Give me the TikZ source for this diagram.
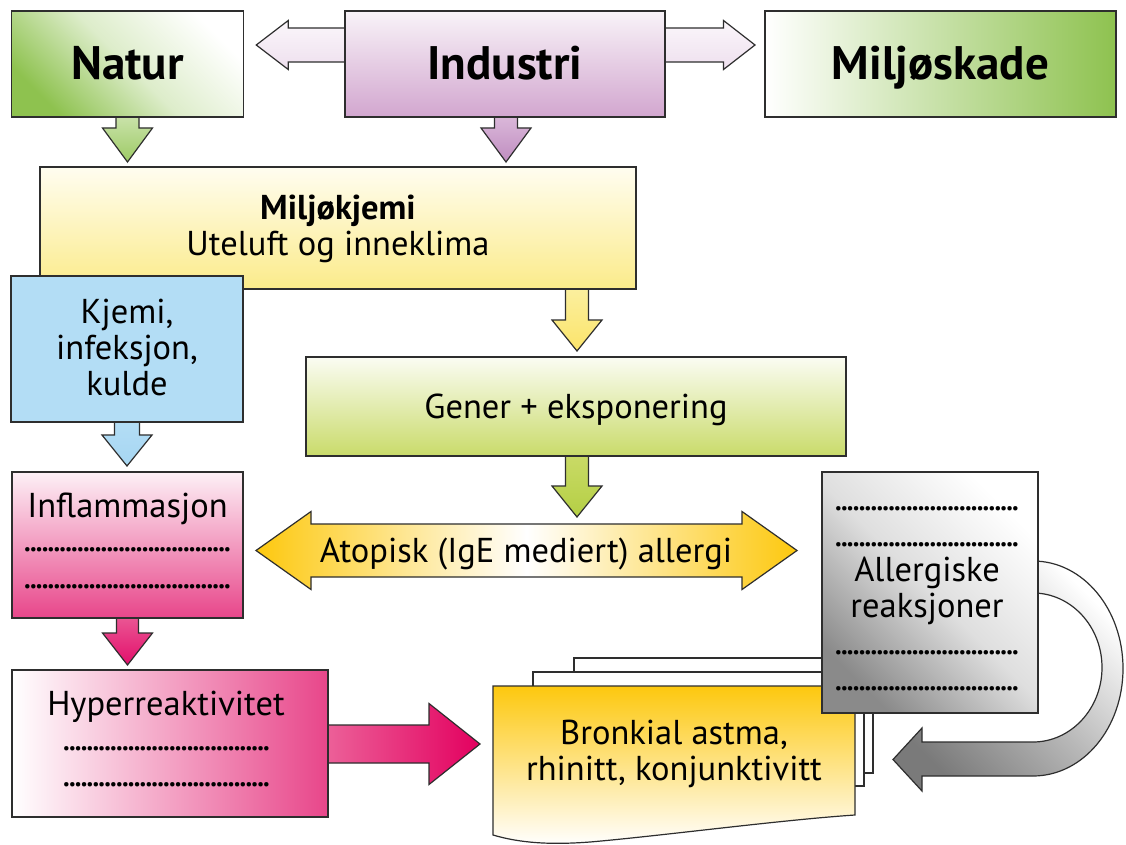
\documentclass[tikz,border=0pt]{standalone}
\usepackage{fontspec}
\setmainfont{PT Sans}
\usetikzlibrary{calc,backgrounds}
\definecolor{edge}{HTML}{2E2E2E}
\definecolor{NG}{HTML}{8EC24F}
\definecolor{IndTop}{HTML}{F8F3F8}
\definecolor{IndBot}{HTML}{D2A6CF}
\definecolor{IndArTop}{HTML}{DAB7D9}
\definecolor{IndArBot}{HTML}{BF8DC0}
\definecolor{SideTop}{HTML}{FBF7FB}
\definecolor{SideBot}{HTML}{EEDFEE}
\definecolor{NatArTop}{HTML}{C9E2A9}
\definecolor{NatArBot}{HTML}{9DCA65}
\definecolor{MkTop}{HTML}{FFFDF0}
\definecolor{MkBot}{HTML}{FBEB8A}
\definecolor{YArTop}{HTML}{FBEF9E}
\definecolor{YArBot}{HTML}{FBE46A}
\definecolor{Blue}{HTML}{B3DDF5}
\definecolor{BArBot}{HTML}{A6D6F2}
\definecolor{GenTop}{HTML}{FBFCF3}
\definecolor{GenBot}{HTML}{C9DB6A}
\definecolor{GArTop}{HTML}{C9DA66}
\definecolor{GArBot}{HTML}{B4CF44}
\definecolor{AG}{HTML}{FDC80E}
\definecolor{PinkTop}{HTML}{FDF0F6}
\definecolor{PinkBot}{HTML}{E8468A}
\definecolor{PArTop}{HTML}{EA5593}
\definecolor{PArBot}{HTML}{E30F6B}
\definecolor{HArL}{HTML}{EC6199}
\definecolor{HArR}{HTML}{E3005F}
\definecolor{Gray}{HTML}{8A8A8A}
\definecolor{GArrow}{HTML}{7A7A7A}

\newcommand\vblock[6]{%
  \path[#1] ($(#2)+({-(#4)},0)$) -- ($(#3)+({-(#4)},{-(#6)})$) -- ($(#3)+({-(#5)},{-(#6)})$) -- (#3)
   -- ($(#3)+({#5},{-(#6)})$) -- ($(#3)+({#4},{-(#6)})$) -- ($(#2)+({#4},0)$) -- cycle;}
\newcommand\hblock[6]{%
  \path[#1] ($(#2)+(0,{-(#4)})$) -- ($(#3)+({-(#6)},{-(#4)})$) -- ($(#3)+({-(#6)},{-(#5)})$) -- (#3)
   -- ($(#3)+({-(#6)},{#5})$) -- ($(#3)+({-(#6)},{#4})$) -- ($(#2)+(0,{#4})$) -- cycle;}
\newcommand\dotrow[1]{\hbox to #1pt{\xleaders\hbox to 5.86pt{\hss.\hss}\hfill}}

\begin{document}
\begin{tikzpicture}[x=1pt,y=-1pt,line join=miter,
  box/.style={draw=edge, line width=1.2pt, inner sep=0pt, outer sep=0pt},
  arr/.style={draw=edge, line width=1.2pt},
  tx/.style={anchor=base, inner sep=0pt, font=\fontsize{34.5}{40}\selectfont},
  tb/.style={anchor=base, inner sep=0pt, font=\bfseries\fontsize{47}{54}\selectfont},
  tm/.style={anchor=base, inner sep=0pt, font=\bfseries\fontsize{34.5}{40}\selectfont},
  dt/.style={anchor=base, inner sep=0pt, font=\fontsize{38}{40}\selectfont}]
\useasboundingbox (0,0) rectangle (1126,845);

% top row
\node[box, minimum width=231.5pt, minimum height=106pt, top color=NG, bottom color=white, middle color=NG!30!white, shading angle=135] (natur) at (127.5,64) {};
\node[box, minimum width=320pt, minimum height=106pt, top color=IndTop, bottom color=IndBot] (industri) at (505,64) {};
\node[box, minimum width=351pt, minimum height=106pt, left color=white, right color=NG] (miljoskade) at (940.5,64) {};
\node[tb] (tnatur) at (127.5,80) {Natur};
\node[tb] (tindustri) at (505,80) {Industri};
\node[tb] (tmiljoskade) at (940.5,80) {Miljøskade};

% Miljokjemi
\node[box, minimum width=596pt, minimum height=122pt, top color=MkTop, bottom color=MkBot] (milj) at (338,228) {};
\node[tm] (tmilj1) at (338,219) {Miljøkjemi};
\node[tx] (tmilj2) at (338,255) {Uteluft og inneklima};

% Kjemi
\node[box, minimum width=232pt, minimum height=146pt, fill=Blue] (kjemi) at (127,349) {};
\node[tx] (tk1) at (127,323) {Kjemi,};
\node[tx] (tk2) at (127,359) {infeksjon,};
\node[tx] (tk3) at (127,395) {kulde};

% Gener
\node[box, minimum width=540pt, minimum height=99pt, top color=GenTop, bottom color=GenBot] (gener) at (576,406.5) {};
\node[tx] (tgener) at (576,418) {Gener + eksponering};

% Inflammasjon
\node[box, minimum width=231pt, minimum height=146pt, top color=PinkTop, bottom color=PinkBot] (inflam) at (127.5,545) {};
\node[tx] (tinfl) at (127.5,517) {Inflammasjon};
\node[dt] (dinfl1) at (127.5,551) {\dotrow{206}};
\node[dt] (dinfl2) at (127.5,588) {\dotrow{206}};

% Hyperreaktivitet
\node[box, minimum width=316pt, minimum height=147pt, left color=white, right color=PinkBot] (hyper) at (170,743.5) {};
\node[tx] (thyper) at (166,715) {Hyperreaktivitet};
\node[dt] (dhyp1) at (166.5,750) {\dotrow{206}};
\node[dt] (dhyp2) at (166.5,786) {\dotrow{206}};

% Bronkial astma document stack
\path[draw=edge, line width=1.2pt, fill=white] (574,658) rectangle (873,773);
\path[draw=edge, line width=1.2pt, fill=white] (533,672) rectangle (864,786);
\path[draw=edge, line width=1.2pt, top color=AG, bottom color=white]
  (493,686) -- (855,686) -- (855,815) .. controls (780,820) and (660,836) .. (590,842)
  .. controls (550,845) and (520,843) .. (493,835) -- cycle;
\coordinate (bronk) at (674,750);
\node[tx] (tbr1) at (674,744) {Bronkial astma,};
\node[tx] (tbr2) at (674,780) {rhinitt, konjunktivitt};

% curved grey arrow
\path[arr, top color=GArrow, bottom color=white, middle color=Gray!60!white, shading angle=135]
  (1025,561) -- (1033,561) .. controls (1083,561) and (1123,609) .. (1123,668.5)
  .. controls (1123,728) and (1083,776) .. (1033,776) -- (922,776) -- (922,791) -- (893,759.5)
  -- (922,728) -- (922,742) -- (1033,742) .. controls (1071,742) and (1102,708.6) .. (1102,667.5)
  .. controls (1102,626.4) and (1071,593) .. (1033,593) -- (1025,593) -- cycle;

% Allergiske reaksjoner
\node[box, minimum width=216pt, minimum height=241pt, top color=Gray, bottom color=white, middle color=Gray!28!white, shading angle=135] (allerg) at (930,592.5) {};
\node[dt] (dal1) at (927,510) {\dotrow{183}};
\node[dt] (dal2) at (927,546) {\dotrow{183}};
\node[tx] (tal1) at (927,581) {Allergiske};
\node[tx] (tal2) at (927,617) {reaksjoner};
\node[dt] (dal3) at (927,654) {\dotrow{183}};
\node[dt] (dal4) at (927,690) {\dotrow{183}};

% Atopisk double arrow
\coordinate (atl) at (256,550.5);
\coordinate (atr) at (797,550.5);
\path[arr, left color=AG, right color=AG, middle color=white]
  (atl) -- ($(atl)+(55,-39)$) -- ($(atl)+(55,-26.5)$) -- ($(atr)+(-55,-26.5)$) -- ($(atr)+(-55,-39)$)
  -- (atr) -- ($(atr)+(-55,39)$) -- ($(atr)+(-55,26.5)$) -- ($(atl)+(55,26.5)$) -- ($(atl)+(55,39)$) -- cycle;
\node[tx] (tatop) at (526,562) {Atopisk (IgE mediert) allergi};

% block arrows (behind boxes)
\begin{pgfonlayer}{background}
  \fill[white] (0,0) rectangle (1126,845);
  \coordinate (la0) at ($(industri.west)+(2,-19)$);
  \coordinate (la1) at ($(natur.east)+(13,-19)$);
  \hblock{arr, top color=SideTop, bottom color=SideBot}{la0}{la1}{17}{24.5}{-32}
  \coordinate (ra0) at ($(industri.east)+(-2,-19)$);
  \coordinate (ra1) at ($(miljoskade.west)+(-10,-19)$);
  \hblock{arr, top color=SideTop, bottom color=SideBot}{ra0}{ra1}{17}{24.5}{31.5}
  \coordinate (na1) at ($(natur.south |- milj.north)+(0,-5)$);
  \vblock{arr, top color=NatArTop, bottom color=NatArBot}{natur.south}{na1}{11.5}{25}{34}
  \coordinate (ia0) at ($(industri.south)+(1,0)$);
  \coordinate (ia1) at ($(ia0 |- milj.north)+(0,-5)$);
  \vblock{arr, top color=IndArTop, bottom color=IndArBot}{ia0}{ia1}{11.5}{25}{34}
  \coordinate (ya0) at ($(milj.south -| gener.north)+(1,0)$);
  \coordinate (ya1) at ($(ya0 |- gener.north)+(0,-6)$);
  \vblock{arr, top color=YArTop, bottom color=YArBot}{ya0}{ya1}{11.5}{25}{31}
  \coordinate (ga0) at ($(gener.south)+(1,0)$);
  \coordinate (ga1) at ($(ga0 |- atl)+(0,-33.5)$);
  \vblock{arr, top color=GArTop, bottom color=GArBot}{ga0}{ga1}{11.5}{25}{31}
  \coordinate (ka1) at ($(kjemi.south |- inflam.north)+(0,-6)$);
  \vblock{arr, top color=Blue, bottom color=BArBot}{kjemi.south}{ka1}{12.5}{25}{31}
  \coordinate (pa1) at ($(inflam.south |- hyper.north)+(0,-5)$);
  \vblock{arr, top color=PArTop, bottom color=PArBot}{inflam.south}{pa1}{11}{25}{32}
  \coordinate (ha0) at ($(hyper.east)+(-2,0.5)$);
  \coordinate (ha1) at ($(hyper.east)+(152,0.5)$);
  \hblock{arr, left color=HArL, right color=HArR}{ha0}{ha1}{19}{40.5}{51}
\end{pgfonlayer}
\end{tikzpicture}
\end{document}
